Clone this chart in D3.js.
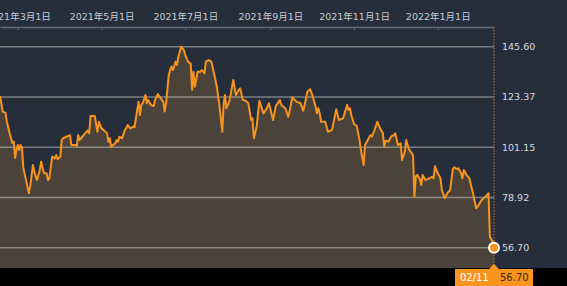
<!DOCTYPE html>
<html>
<head>
<meta charset="utf-8">
<script src="https://cdn.jsdelivr.net/npm/d3@7"></script>
<style>
  html, body { margin: 0; padding: 0; background: #272e3b; }
  svg { display: block; }
</style>
</head>
<body>
<div id="chart"></div>
<script>
// daily closes
var dates = [
  "2021-02-16","2021-02-18","2021-02-20","2021-02-21","2021-02-23","2021-02-25","2021-02-26","2021-02-27","2021-02-28",
  "2021-03-01","2021-03-02","2021-03-03","2021-03-04","2021-03-05","2021-03-07","2021-03-09","2021-03-10","2021-03-12",
  "2021-03-13","2021-03-15","2021-03-17","2021-03-18","2021-03-20","2021-03-22","2021-03-23","2021-03-24","2021-03-26",
  "2021-03-28","2021-03-29","2021-03-30","2021-04-01","2021-04-02","2021-04-03","2021-04-08","2021-04-09","2021-04-12",
  "2021-04-13","2021-04-14","2021-04-15","2021-04-17","2021-04-19","2021-04-21","2021-04-22","2021-04-23","2021-04-26",
  "2021-04-28","2021-04-29","2021-05-01","2021-05-05","2021-05-06","2021-05-07","2021-05-08","2021-05-11","2021-05-12",
  "2021-05-13","2021-05-14","2021-05-16","2021-05-18","2021-05-19","2021-05-20","2021-05-22","2021-05-24","2021-05-25",
  "2021-05-27","2021-05-28","2021-05-29","2021-05-30","2021-05-31","2021-06-02","2021-06-03","2021-06-04","2021-06-06",
  "2021-06-08","2021-06-09","2021-06-11","2021-06-13","2021-06-15","2021-06-16","2021-06-17","2021-06-19","2021-06-20",
  "2021-06-21","2021-06-22","2021-06-24","2021-06-25","2021-06-26","2021-06-27","2021-06-28","2021-06-30","2021-07-01",
  "2021-07-03","2021-07-05","2021-07-06","2021-07-07","2021-07-08","2021-07-10","2021-07-12","2021-07-13","2021-07-15",
  "2021-07-16","2021-07-18","2021-07-20","2021-07-22","2021-07-24","2021-07-26","2021-07-28","2021-07-29","2021-07-30",
  "2021-07-31","2021-08-02","2021-08-03","2021-08-05","2021-08-06","2021-08-07","2021-08-09","2021-08-10","2021-08-12",
  "2021-08-14","2021-08-16","2021-08-18","2021-08-19","2021-08-20","2021-08-22","2021-08-24","2021-08-27","2021-08-29",
  "2021-08-31","2021-09-03","2021-09-05","2021-09-08","2021-09-09","2021-09-12","2021-09-14","2021-09-15","2021-09-17",
  "2021-09-20","2021-09-23","2021-09-25","2021-09-26","2021-09-28","2021-09-30","2021-10-02","2021-10-04","2021-10-05",
  "2021-10-06","2021-10-07","2021-10-08","2021-10-11","2021-10-13","2021-10-16","2021-10-19","2021-10-21","2021-10-24",
  "2021-10-27","2021-10-28","2021-10-29","2021-10-30","2021-11-01","2021-11-03","2021-11-05","2021-11-06","2021-11-08",
  "2021-11-09","2021-11-11","2021-11-13","2021-11-14","2021-11-16","2021-11-18","2021-11-20","2021-11-22","2021-11-23",
  "2021-11-24","2021-11-26","2021-11-28","2021-11-30","2021-12-01","2021-12-03","2021-12-05","2021-12-06","2021-12-08",
  "2021-12-09","2021-12-11","2021-12-13","2021-12-14","2021-12-15","2021-12-16","2021-12-17","2021-12-19","2021-12-20",
  "2021-12-21","2021-12-23","2021-12-26","2021-12-28","2021-12-29","2021-12-30","2022-01-01","2022-01-03","2022-01-04",
  "2022-01-06","2022-01-08","2022-01-10","2022-01-12","2022-01-13","2022-01-15","2022-01-16","2022-01-18","2022-01-19",
  "2022-01-20","2022-01-22","2022-01-24","2022-01-27","2022-01-29","2022-01-30","2022-02-02","2022-02-06","2022-02-07",
  "2022-02-08","2022-02-10","2022-02-11"
];

var prices = [
  123.8,116.9,116.3,112.4,107.4,103.0,103.6,96.4,99.9,
  102.1,99.9,102.1,100.8,92.0,86.6,80.8,83.7,93.3,
  90.3,86.6,91.1,94.7,89.6,89.6,86.6,87.4,97.0,
  96.2,97.7,95.8,97.0,104.6,105.1,106.5,102.1,102.1,
  101.7,106.5,104.3,105.8,107.3,108.5,107.3,115.0,115.0,
  108.0,112.4,109.5,107.3,103.6,105.1,101.4,102.9,104.3,
  103.6,105.8,105.1,108.8,109.5,111.0,109.5,110.2,110.0,
  117.6,121.3,115.4,119.8,120.6,124.2,120.6,122.0,119.8,
  119.4,122.0,124.7,122.8,121.3,116.9,120.6,133.1,135.3,
  136.8,135.3,139.0,137.5,141.2,143.4,145.6,144.1,141.9,
  139.0,138.0,126.5,134.5,127.9,134.5,134.5,135.3,133.8,
  139.0,139.7,139.0,133.8,127.9,119.1,108.0,120.6,124.2,
  118.4,121.3,124.2,130.9,127.2,124.2,126.5,127.2,122.0,
  121.7,120.6,113.2,113.9,105.1,110.2,121.7,116.1,117.9,
  120.6,113.2,119.4,122.0,119.8,118.4,114.6,116.9,123.2,
  121.3,120.6,117.3,119.8,125.7,126.8,123.5,119.1,116.1,
  118.4,116.1,112.4,112.4,108.0,108.8,117.9,113.2,113.9,
  119.8,117.6,118.4,115.4,111.4,110.5,104.3,99.9,93.3,
  102.1,104.3,106.5,105.8,108.8,112.4,109.5,107.3,101.4,
  104.0,103.6,105.8,106.5,107.3,102.1,102.9,95.5,99.2,
  104.3,100.2,98.5,97.7,79.3,88.1,88.9,87.0,84.4,
  88.9,86.6,87.4,88.1,87.4,92.8,89.6,87.4,82.2,
  78.6,80.8,82.2,91.4,92.3,91.4,91.8,89.6,87.4,
  91.1,88.9,87.4,80.0,74.1,74.8,77.8,80.0,80.8,
  61.6,59.4,56.70
];

var yTicks = [56.70, 78.92, 101.15, 123.37, 145.60];
var xTicks = ["2021-03-01","2021-05-01","2021-07-01","2021-09-01","2021-11-01","2022-01-01"];
var lastLabel = "02/11";

var width = 567, height = 286;
var plotRight = 494, plotTop = 27, plotBottom = 268;
var orange = "#f7941d";
var font = "'DejaVu Sans', 'Noto Sans CJK JP', sans-serif";

var parse = d3.timeParse("%Y-%m-%d");
var data = dates.map(function(d, i) { return { date: parse(d), value: prices[i] }; });
var last = data[data.length - 1];

var svg = d3.select("#chart")
  .append("svg")
  .attr("width", width)
  .attr("height", height);

svg.append("rect")
  .attr("width", width)
  .attr("height", height)
  .attr("fill", "#272e3b");

var x = d3.scaleTime()
  .domain([parse("2021-02-16"), parse("2022-02-11")])
  .range([0, plotRight]);

var y = d3.scaleLinear()
  .domain([56.70, 145.60])
  .range([247.7, 46.7]);

// area under the line
svg.append("path")
  .datum(data)
  .attr("fill", "#4b4339")
  .attr("d", d3.area()
    .x(function(d) { return x(d.date); })
    .y0(plotBottom)
    .y1(function(d) { return y(d.value); }));

// horizontal gridlines
svg.append("g")
  .selectAll("line")
  .data(yTicks)
  .enter()
  .append("line")
  .attr("x1", 0)
  .attr("x2", plotRight)
  .attr("y1", function(d) { return y(d); })
  .attr("y2", function(d) { return y(d); })
  .attr("stroke", "rgba(255,255,255,0.38)")
  .attr("stroke-width", 1.5);

// top axis with month labels
var xAxis = d3.axisTop(x)
  .tickValues(xTicks.map(parse))
  .tickSizeInner(-3)
  .tickSizeOuter(0)
  .tickPadding(7)
  .tickFormat(d3.timeFormat("%Y年%-m月%-d日"));

var gx = svg.append("g")
  .attr("transform", "translate(0," + plotTop + ")")
  .call(xAxis);
gx.select(".domain").attr("stroke", "#666d78").attr("stroke-width", 1.5);
gx.selectAll(".tick line").attr("stroke", "#666d78");
gx.selectAll(".tick text")
  .attr("fill", "#c6cdd6")
  .style("font-family", font)
  .style("font-size", "9.5px");

// dotted right edge
svg.append("line")
  .attr("x1", plotRight).attr("x2", plotRight)
  .attr("y1", plotTop).attr("y2", plotBottom)
  .attr("stroke", "#c77a2c")
  .attr("stroke-width", 1)
  .attr("stroke-dasharray", "1.5,1.5");

// price labels on the right
svg.append("g")
  .selectAll("text")
  .data(yTicks)
  .enter()
  .append("text")
  .attr("x", plotRight + 8)
  .attr("y", function(d) { return y(d) + 3.5; })
  .attr("fill", "#d5dbe2")
  .style("font-family", font)
  .style("font-size", "9.5px")
  .text(function(d) { return d.toFixed(2); });

// the price line
svg.append("path")
  .datum(data)
  .attr("fill", "none")
  .attr("stroke", orange)
  .attr("stroke-width", 2)
  .attr("stroke-linejoin", "round")
  .attr("d", d3.line()
    .x(function(d) { return x(d.date); })
    .y(function(d) { return y(d.value); }));

// black strip at the bottom
svg.append("rect")
  .attr("x", 0)
  .attr("y", plotBottom)
  .attr("width", width)
  .attr("height", height - plotBottom)
  .attr("fill", "#000");

// last value marker
svg.append("circle")
  .attr("cx", x(last.date))
  .attr("cy", y(last.value))
  .attr("r", 5)
  .attr("fill", orange)
  .attr("stroke", "#fff")
  .attr("stroke-width", 2);

// last value tag
var lx = x(last.date);
var tag = svg.append("g");
tag.append("rect")
  .attr("x", lx - 39)
  .attr("y", plotBottom + 1)
  .attr("width", 78)
  .attr("height", height - plotBottom - 1)
  .attr("fill", orange);
tag.append("path")
  .attr("d", "M" + (lx - 5) + "," + (plotBottom + 1) + "L" + lx + "," + (plotBottom - 4) + "L" + (lx + 5) + "," + (plotBottom + 1) + "Z")
  .attr("fill", orange);
tag.append("text")
  .attr("x", lx - 34)
  .attr("y", plotBottom + 13)
  .attr("fill", "#fff")
  .style("font-family", font)
  .style("font-size", "10px")
  .text(lastLabel);
tag.append("text")
  .attr("x", lx + 6)
  .attr("y", plotBottom + 13)
  .attr("fill", "#3a2912")
  .style("font-family", font)
  .style("font-size", "10px")
  .text(last.value.toFixed(2));
</script>
</body>
</html>
